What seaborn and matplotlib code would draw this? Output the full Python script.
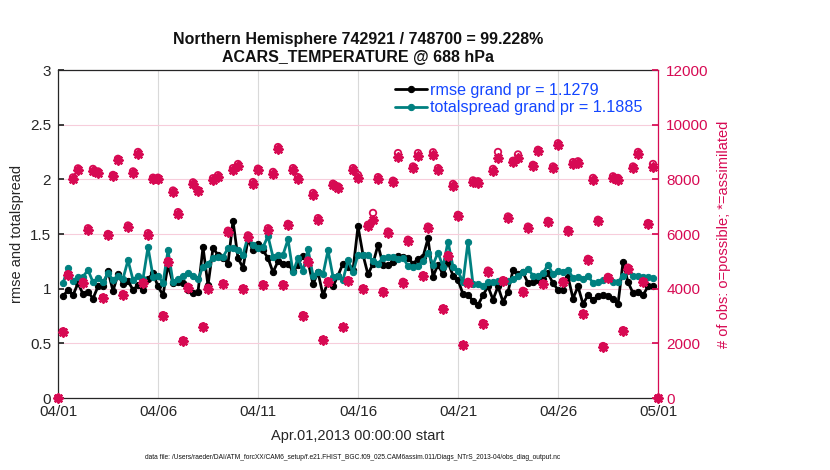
import numpy as np
import pandas as pd
import matplotlib
matplotlib.use("Agg")
import matplotlib.pyplot as plt
import seaborn as sns

# ---------------- data ----------------
tick_labels = ["04/01", "04/06", "04/11", "04/16", "04/21", "04/26", "05/01"]
tick_days = [0, 5, 10, 15, 20, 25, 30]

# rmse and totalspread at 6-hourly bins, day 0.25 .. 29.75
rmse = [0.93, 0.99, 0.94, 1.05, 0.95, 0.97, 0.91, 1.02, 1.02, 1.16, 0.98, 1.13, 1.04, 1.07, 0.99, 1.03, 0.99, 1.09, 1.14, 1.02,
        0.94, 1.22, 1.05, 1.06, 1.05, 0.99, 0.96, 0.97, 1.38, 1.03, 1.37, 1.31, 1.28, 1.23, 1.62, 1.28, 1.19, 1.45, 1.35, 1.41,
        1.35, 1.28, 1.15, 1.25, 1.23, 1.23, 1.16, 1.22, 1.30, 1.25, 1.04, 1.15, 0.94, 1.06, 1.02, 1.12, 1.23, 1.20, 1.17, 1.57,
        1.31, 1.13, 1.23, 1.40, 1.22, 1.22, 1.24, 1.30, 1.29, 1.28, 1.23, 1.27, 1.29, 1.46, 1.11, 1.22, 1.13, 1.24, 1.12, 1.08,
        0.95, 0.94, 0.89, 0.85, 0.94, 1.02, 0.90, 1.02, 0.88, 0.97, 1.17, 1.13, 1.15, 1.05, 1.06, 1.08, 1.09, 1.14, 1.05, 0.99,
        0.99, 1.11, 0.91, 1.02, 0.86, 0.94, 0.90, 0.93, 0.94, 0.93, 0.91, 0.86, 1.24, 1.06, 0.96, 0.97, 0.94, 1.02, 1.02]

totalspread = [1.05, 1.19, 1.07, 1.11, 1.11, 1.17, 1.06, 1.10, 1.06, 1.14, 1.08, 1.12, 1.09, 1.26, 1.08, 1.12, 1.09, 1.38, 1.11, 1.12,
               1.05, 1.35, 1.06, 1.09, 1.12, 1.14, 1.12, 1.09, 1.20, 1.23, 1.28, 1.29, 1.29, 1.37, 1.37, 1.35, 1.31, 1.48, 1.40, 1.37,
               1.38, 1.48, 1.29, 1.31, 1.31, 1.45, 1.15, 1.28, 1.16, 1.36, 1.12, 1.15, 1.13, 1.35, 1.11, 1.12, 1.08, 1.26, 1.15, 1.31,
               1.31, 1.31, 1.25, 1.23, 1.28, 1.29, 1.29, 1.27, 1.28, 1.21, 1.20, 1.21, 1.25, 1.33, 1.22, 1.33, 1.20, 1.43, 1.20, 1.16,
               1.06, 1.43, 1.04, 1.04, 1.02, 1.06, 1.06, 1.07, 1.06, 1.07, 1.09, 1.12, 1.15, 1.18, 1.12, 1.12, 1.14, 1.22, 1.13, 1.16,
               1.15, 1.17, 1.10, 1.11, 1.09, 1.12, 1.05, 1.06, 1.08, 1.10, 1.06, 1.06, 1.12, 1.16, 1.12, 1.12, 1.11, 1.11, 1.10]

# observation counts at bins day 0 .. 30
obs_possible = [0,
    2440, 4530, 8070, 8400, 4250, 6210, 8380, 8290, 3680, 6000, 8160, 8750, 3800, 6310, 8290, 9000, 4220, 6030, 8060, 8060,
    3030, 5010, 7590, 6800, 2110, 4070, 7890, 7610, 2620, 4030, 8040, 8150, 4190, 6120, 8410, 8560, 4010, 5950, 7900, 8390,
    4160, 6210, 8270, 9180, 4160, 6370, 8410, 8080, 3030, 5030, 7500, 6580, 2140, 4270, 7840, 7740, 2600, 4310, 8410, 8160,
    4010, 6340, 6770, 8080, 3910, 6090, 7950, 8960, 4250, 5790, 8470, 8960, 4490, 6270, 8990, 8410, 3280, 5230, 7830, 6700,
    1950, 4250, 7960, 7930, 2740, 4660, 8380, 9000, 4310, 6640, 8680, 8910, 3920, 6270, 8530, 9080, 4190, 6480, 8470, 9320,
    4270, 6150, 8630, 8660, 3090, 5090, 8050, 6520, 1900, 4430, 8110, 8050, 2480, 4770, 8470, 9000, 4270, 6400, 8560,
    0]

obs_assimilated = [0,
    2420, 4490, 8010, 8350, 4220, 6160, 8320, 8230, 3650, 5960, 8110, 8690, 3770, 6260, 8230, 8940, 4190, 5980, 8010, 8010,
    3000, 4970, 7530, 6750, 2090, 4040, 7830, 7560, 2600, 4000, 7990, 8090, 4160, 6070, 8350, 8500, 3980, 5900, 7840, 8330,
    4130, 6160, 8210, 9120, 4130, 6320, 8350, 8020, 3000, 4990, 7440, 6530, 2120, 4240, 7780, 7680, 2580, 4280, 8350, 8050,
    3980, 6290, 6530, 8020, 3880, 6040, 7890, 8820, 4220, 5740, 8410, 8840, 4460, 6220, 8900, 8350, 3250, 5190, 7770, 6650,
    1930, 4220, 7900, 7870, 2720, 4620, 8320, 8780, 4280, 6590, 8620, 8780, 3890, 6220, 8470, 9020, 4160, 6430, 8410, 9260,
    4240, 6100, 8570, 8600, 3060, 5050, 7990, 6470, 1880, 4400, 8050, 7990, 2460, 4730, 8410, 8940, 4240, 6350, 8450,
    0]

# bin centres (days since Apr 01 00Z)
obs_days = np.arange(len(obs_possible)) * 0.25
err_days = obs_days[1:-1]

err_df = pd.DataFrame({"day": err_days, "rmse": rmse, "spread": totalspread})
obs_df = pd.DataFrame({"day": obs_days, "possible": obs_possible, "assim": obs_assimilated})

# ---------------- style ----------------
sns.set_theme(style="white")
plt.rcParams["font.family"] = ["Liberation Sans", "DejaVu Sans"]

CRIMSON = "#D70A53"
TEAL = "#008080"
BLUE = "#1346FF"

fig = plt.figure(figsize=(8.3, 4.7), dpi=100)
ax = fig.add_axes([58 / 830, 1 - 398 / 470, 600 / 830, 328 / 470])
ax2 = ax.twinx()

sns.lineplot(data=err_df, x="day", y="rmse", ax=ax, color="black", marker="o",
             markersize=4.5, markeredgecolor="black", linewidth=2.0,
             label="rmse grand pr = 1.1279")
sns.lineplot(data=err_df, x="day", y="spread", ax=ax, color=TEAL, marker="o",
             markersize=4.5, markeredgecolor=TEAL, linewidth=2.0,
             label="totalspread grand pr = 1.1885")

sns.scatterplot(data=obs_df, x="day", y="possible", ax=ax2, marker="o", s=22,
                facecolors="none", edgecolor=CRIMSON, linewidth=1.3, clip_on=False,
                zorder=5)
sns.scatterplot(data=obs_df, x="day", y="assim", ax=ax2, marker=(8, 2, 0), s=32,
                color=CRIMSON, linewidth=1.9, clip_on=False, zorder=6)

# axes limits / ticks
ax.set_xlim(0, 30)
ax.set_ylim(0, 3)
ax2.set_ylim(0, 12000)
ax.set_xticks(tick_days)
ax.set_xticklabels(tick_labels)
ax.set_yticks([0, 0.5, 1, 1.5, 2, 2.5, 3])
ax.set_yticklabels(["0", "0.5", "1", "1.5", "2", "2.5", "3"])
ax2.set_yticks([0, 2000, 4000, 6000, 8000, 10000, 12000])

ax.tick_params(axis="both", direction="in", length=4, labelsize=11, colors="#262626",
               top=False, right=False, pad=5)
ax2.tick_params(axis="y", direction="in", length=4, labelsize=11, colors=CRIMSON, pad=6)

ax.grid(axis="x", color="#d9d9d9", linewidth=0.8)
ax.grid(axis="y", color="#f7cddb", linewidth=0.8)
ax.set_axisbelow(True)
ax2.grid(False)

for side in ["left", "bottom", "top"]:
    ax.spines[side].set_color("#262626")
    ax.spines[side].set_linewidth(0.9)
ax.spines["right"].set_visible(False)
for side in ["left", "bottom", "top"]:
    ax2.spines[side].set_visible(False)
ax2.spines["right"].set_color(CRIMSON)
ax2.spines["right"].set_linewidth(0.9)

ax.set_xlabel("Apr.01,2013 00:00:00 start", fontsize=10.5, color="#262626", labelpad=7)
ax.set_ylabel("rmse and totalspread", fontsize=10.5, color="#262626", labelpad=4)
ax2.set_ylabel("# of obs: o=possible; *=assimilated", fontsize=10.5, color=CRIMSON, labelpad=6)

ax.set_title("Northern Hemisphere 742921 / 748700 = 99.228%\nACARS_TEMPERATURE @ 688 hPa",
             fontsize=11.5, fontweight="bold", color="#111111", pad=6, linespacing=1.2)

leg = ax.legend(loc="upper right", bbox_to_anchor=(0.98, 0.97), frameon=False,
                fontsize=11.6, handlelength=2.0, handletextpad=0.2, labelspacing=0.15,
                borderaxespad=0.0, borderpad=0.2)
for t in leg.get_texts():
    t.set_color(BLUE)

fig.text(0.425, 0.027,
         "data file: /Users/raeder/DAI/ATM_forcXX/CAM6_setup/f.e21.FHIST_BGC.f09_025.CAM6assim.011/Diags_NTrS_2013-04/obs_diag_output.nc",
         ha="center", va="center", fontsize=4.8, color="#111111")

fig.savefig("out.png", dpi=100, facecolor="white")
